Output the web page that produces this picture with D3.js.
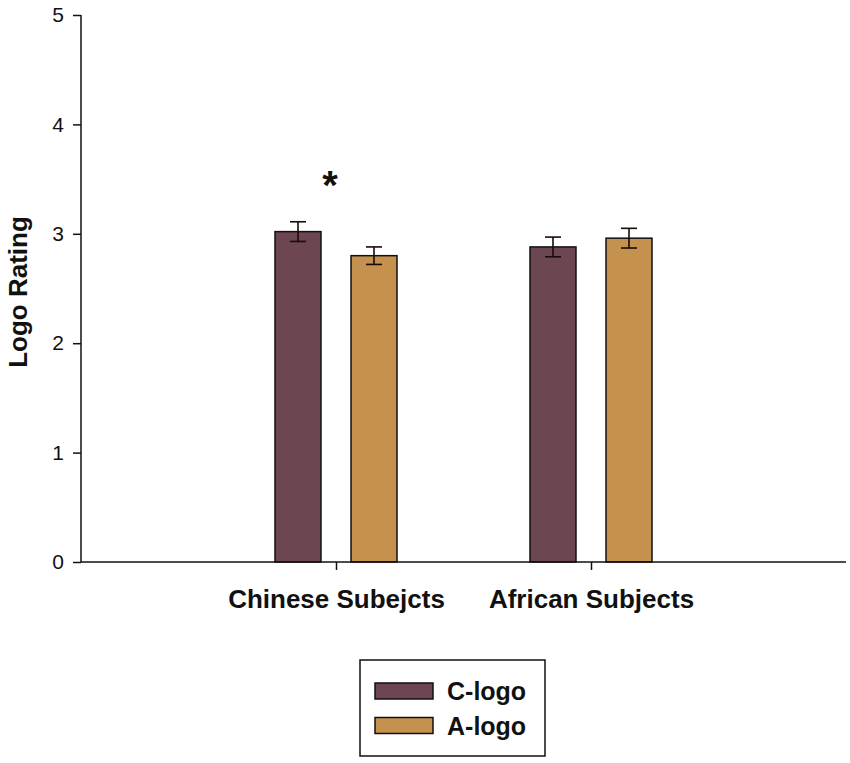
<!DOCTYPE html>
<html>
<head>
<meta charset="utf-8">
<script src="https://cdn.jsdelivr.net/npm/d3@7"></script>
<style>
  body { margin: 0; background: #fff; }
  svg { display: block; font-family: Arial, "Liberation Sans", sans-serif; }
</style>
</head>
<body>
<svg id="chart" width="850" height="763"></svg>
<script>
const categories = ["Chinese Subejcts", "African Subjects"];
const seriesNames = ["C-logo", "A-logo"];
const cLogo = [3.02, 2.88];
const aLogo = [2.80, 2.96];
const cLogoErr = [0.09, 0.09];
const aLogoErr = [0.08, 0.09];
const yTicks = [0, 1, 2, 3, 4, 5];
const yLabel = "Logo Rating";
const significance = ["*", ""];

const colors = { "C-logo": "#6C4650", "A-logo": "#C5914F" };

(function () {
const svg = d3.select("#chart");
const mLeft = 81, mRight = 846, mTop = 15, mBottom = 562;

const x = d3.scalePoint().domain(categories).range([mLeft, mRight]).padding(1);
const y = d3.scaleLinear().domain([0, 5]).range([mBottom, mTop]);
const xSub = d3.scaleBand().domain(seriesNames).range([-61, 61]).paddingInner(0.395).paddingOuter(0);

const data = [];
categories.forEach((c, i) => {
  data.push({ cat: c, s: "C-logo", v: cLogo[i], e: cLogoErr[i] });
  data.push({ cat: c, s: "A-logo", v: aLogo[i], e: aLogoErr[i] });
});

// bars
svg.append("g").selectAll("rect").data(data).join("rect")
  .attr("x", d => x(d.cat) + xSub(d.s))
  .attr("width", xSub.bandwidth())
  .attr("y", d => y(d.v))
  .attr("height", d => y(0) - y(d.v))
  .attr("fill", d => colors[d.s])
  .attr("stroke", "#111")
  .attr("stroke-width", 1.5);

// error bars
const eg = svg.append("g").attr("stroke", "#1a0a0a").attr("stroke-width", 1.6);
data.forEach(d => {
  const cx = x(d.cat) + xSub(d.s) + xSub.bandwidth() / 2;
  eg.append("line").attr("x1", cx).attr("x2", cx).attr("y1", y(d.v + d.e)).attr("y2", y(d.v - d.e));
  eg.append("line").attr("x1", cx - 8).attr("x2", cx + 8).attr("y1", y(d.v + d.e)).attr("y2", y(d.v + d.e));
  eg.append("line").attr("x1", cx - 8).attr("x2", cx + 8).attr("y1", y(d.v - d.e)).attr("y2", y(d.v - d.e));
});

// significance star
categories.forEach((c, i) => {
  if (!significance[i]) return;
  svg.append("text")
    .attr("x", x(c) - 6)
    .attr("y", y(cLogo[i] + cLogoErr[i]) - 23)
    .attr("text-anchor", "middle")
    .attr("font-size", 40).attr("font-weight", "bold").attr("fill", "#111")
    .text(significance[i]);
});

// y axis
const yAxis = svg.append("g").attr("transform", `translate(${mLeft},0)`)
  .call(d3.axisLeft(y).tickValues(yTicks).tickFormat(d3.format("d")).tickSize(8).tickPadding(9));
yAxis.select(".domain").attr("stroke", "#111").attr("stroke-width", 1.5).attr("d", `M0,${mTop}V${mBottom}`);
yAxis.selectAll(".tick line").attr("stroke", "#111").attr("stroke-width", 1.5);
yAxis.selectAll(".tick text").attr("font-size", 21).attr("fill", "#111").attr("font-family", "Arial, Liberation Sans, sans-serif");

// x axis
const xAxis = svg.append("g").attr("transform", `translate(0,${mBottom})`)
  .call(d3.axisBottom(x).tickSize(8).tickPadding(20));
xAxis.select(".domain").attr("stroke", "#111").attr("stroke-width", 1.5).attr("d", `M${mLeft},0H${mRight}`);
xAxis.selectAll(".tick line").attr("stroke", "#111").attr("stroke-width", 1.5);
xAxis.selectAll(".tick text").attr("font-size", 26).attr("font-weight", "bold").attr("fill", "#111")
  .attr("font-family", "Arial, Liberation Sans, sans-serif");

// y label
svg.append("text")
  .attr("transform", `translate(27,292) rotate(-90)`)
  .attr("text-anchor", "middle")
  .attr("font-size", 26).attr("font-weight", "bold").attr("fill", "#111")
  .text(yLabel);

// legend
const lg = svg.append("g");
lg.append("rect").attr("x", 360).attr("y", 660).attr("width", 185).attr("height", 96)
  .attr("fill", "#fff").attr("stroke", "#111").attr("stroke-width", 1.5);
seriesNames.forEach((s, i) => {
  const yy = 683 + i * 34.5;
  lg.append("rect").attr("x", 375).attr("y", yy).attr("width", 58).attr("height", 16)
    .attr("fill", colors[s]).attr("stroke", "#111").attr("stroke-width", 1.5);
  lg.append("text").attr("x", 447).attr("y", yy + 17)
    .attr("font-size", 25).attr("font-weight", "bold").attr("fill", "#111").text(s);
});
})();
</script>
</body>
</html>
